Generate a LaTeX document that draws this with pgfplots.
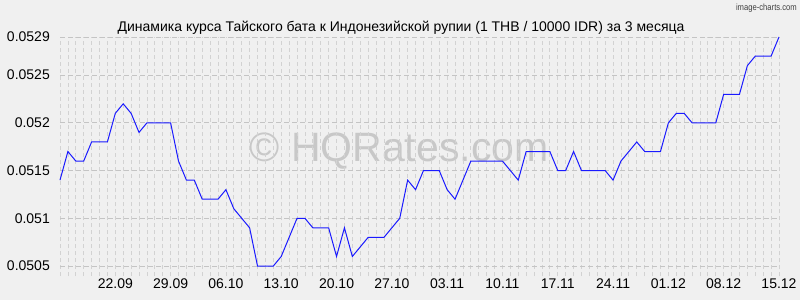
\documentclass[border=0pt]{standalone}
\usepackage{pgfplots}
\pgfplotsset{compat=1.18}
\usepackage{fontspec}
\setmainfont{Liberation Sans}
\definecolor{bg}{HTML}{F0F0F0}
\definecolor{hgrid}{HTML}{C4C4C4}
\definecolor{vgrid}{HTML}{D2D2D2}
\definecolor{wm}{HTML}{C8C8C8}
\definecolor{ln}{HTML}{1A1AFF}
\begin{document}
\begin{tikzpicture}[x=1pt,y=1pt]
\fill[bg] (0,0) rectangle (800,300);
\node[anchor=base, text=wm, inner sep=0pt] at (399,138) {\fontsize{41}{45}\selectfont © HQRates.com};
\node[anchor=base, inner sep=0pt] at (401,268) {\fontsize{14}{16}\selectfont Динамика курса Тайского бата к Индонезийской рупии (1 THB / 10000 IDR) за 3 месяца};
\node[anchor=base east, inner sep=0pt, text=black!75] at (797,289) {\scalebox{0.85}[1]{\fontsize{9}{10}\selectfont image-charts.com}};
\begin{axis}[
  at={(60pt,24pt)}, anchor=south west,
  width=719pt, height=239pt, scale only axis,
  xmin=0, xmax=91, ymin=0.0503952, ymax=0.0529,
  scaled y ticks=false, scaled x ticks=false,
  axis line style={draw=none},
  major tick length=0pt, minor tick length=0pt,
  xtick={7,14,...,91},
  xticklabels={22.09,29.09,06.10,13.10,20.10,27.10,03.11,10.11,17.11,24.11,01.12,08.12,15.12},
  minor xtick={0,...,91},
  ytick={0.0505,0.051,0.0515,0.052,0.0525,0.0529},
  yticklabels={0.0505,0.051,0.0515,0.052,0.0525,0.0529},
  xmajorgrids, xminorgrids, ymajorgrids,
  major x grid style={vgrid, dash pattern=on 4pt off 3pt, line width=0.8pt},
  minor x grid style={vgrid, dash pattern=on 4pt off 3pt, line width=0.8pt},
  major y grid style={hgrid, dash pattern=on 5pt off 3pt, line width=0.8pt},
  xticklabel style={anchor=base, inner sep=0pt, yshift=-12pt, font=\fontsize{14}{16}\selectfont},
  yticklabel style={anchor=east, inner sep=0pt, xshift=-10pt, font=\fontsize{14}{16}\selectfont},
  clip=false,
]
\addplot[ln, line width=1pt, mark=none] coordinates {
(0,0.0514)(1,0.0517)(2,0.0516)(3,0.0516)(4,0.0518)(5,0.0518)(6,0.0518)(7,0.0521)(8,0.0522)(9,0.0521)
(10,0.0519)(11,0.0520)(12,0.0520)(13,0.0520)(14,0.0520)(15,0.0516)(16,0.0514)(17,0.0514)(18,0.0512)(19,0.0512)
(20,0.0512)(21,0.0513)(22,0.0511)(23,0.0510)(24,0.0509)(25,0.0505)(26,0.0505)(27,0.0505)(28,0.0506)(29,0.0508)
(30,0.0510)(31,0.0510)(32,0.0509)(33,0.0509)(34,0.0509)(35,0.0506)(36,0.0509)(37,0.0506)(38,0.0507)(39,0.0508)
(40,0.0508)(41,0.0508)(42,0.0509)(43,0.0510)(44,0.0514)(45,0.0513)(46,0.0515)(47,0.0515)(48,0.0515)(49,0.0513)
(50,0.0512)(51,0.0514)(52,0.0516)(53,0.0516)(54,0.0516)(55,0.0516)(56,0.0516)(57,0.0515)(58,0.0514)(59,0.0517)
(60,0.0517)(61,0.0517)(62,0.0517)(63,0.0515)(64,0.0515)(65,0.0517)(66,0.0515)(67,0.0515)(68,0.0515)(69,0.0515)
(70,0.0514)(71,0.0516)(72,0.0517)(73,0.0518)(74,0.0517)(75,0.0517)(76,0.0517)(77,0.0520)(78,0.0521)(79,0.0521)
(80,0.0520)(81,0.0520)(82,0.0520)(83,0.0520)(84,0.0523)(85,0.0523)(86,0.0523)(87,0.0526)(88,0.0527)(89,0.0527)
(90,0.0527)(91,0.0529)
};
\end{axis}
\pgfresetboundingbox
\useasboundingbox (0,0) rectangle (800,300);
\end{tikzpicture}
\end{document}
